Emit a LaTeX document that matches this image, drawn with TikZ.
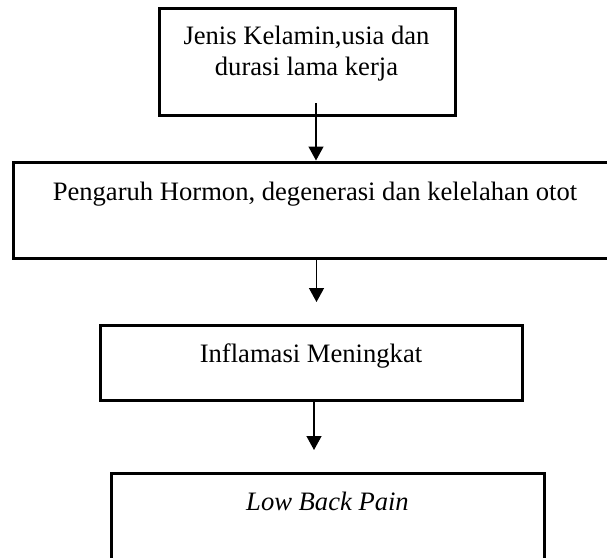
\documentclass[tikz,border=0pt]{standalone}
\usepackage{fontspec}
\setmainfont{Liberation Serif}
\usetikzlibrary{arrows.meta}
\begin{document}
\begin{tikzpicture}[x=1pt,y=1pt,
  boxshape/.style={draw=black,line width=3pt,inner sep=0pt,rectangle},
  label/.style={font=\fontsize{26.6}{30}\selectfont,inner sep=0pt,anchor=base},
  arr/.style={line width=1.3pt,-{Triangle[width=15pt,length=14pt]}}]
\useasboundingbox (0,0) rectangle (607,-557);
\clip (0,0) rectangle (607,-557);
\node[boxshape,minimum width=296pt,minimum height=107pt] (b1) at (307,-61.5) {};
\node[boxshape,minimum width=604pt,minimum height=96pt] (b2) at (315,-210) {};
\node[boxshape,minimum width=422pt,minimum height=75pt] (b3) at (311,-362.5) {};
\node[boxshape,minimum width=433pt,minimum height=127pt] (b4) at (327.5,-536.5) {};
\node[label] (t1a) at (306.5,-44) {Jenis Kelamin,usia dan};
\node[label] (t1b) at (306.5,-75) {durasi lama kerja};
\node[label] (t2) at (315,-200) {Pengaruh Hormon, degenerasi dan kelelahan otot};
\node[label] (t3) at (311,-362) {Inflamasi Meningkat};
\node[label] (t4) at (327.5,-510) {\itshape Low Back Pain};
\coordinate (a1s) at (316,-103);
\draw[arr] (a1s) -- (a1s |- b2.north);
\coordinate (a2s) at (316.5,-258);
\draw[arr] (a2s) -- (316.5,-302) coordinate (a2e);
\coordinate (a3s) at (314,-400);
\draw[arr] (a3s) -- (314,-450) coordinate (a3e);
\end{tikzpicture}
\end{document}
